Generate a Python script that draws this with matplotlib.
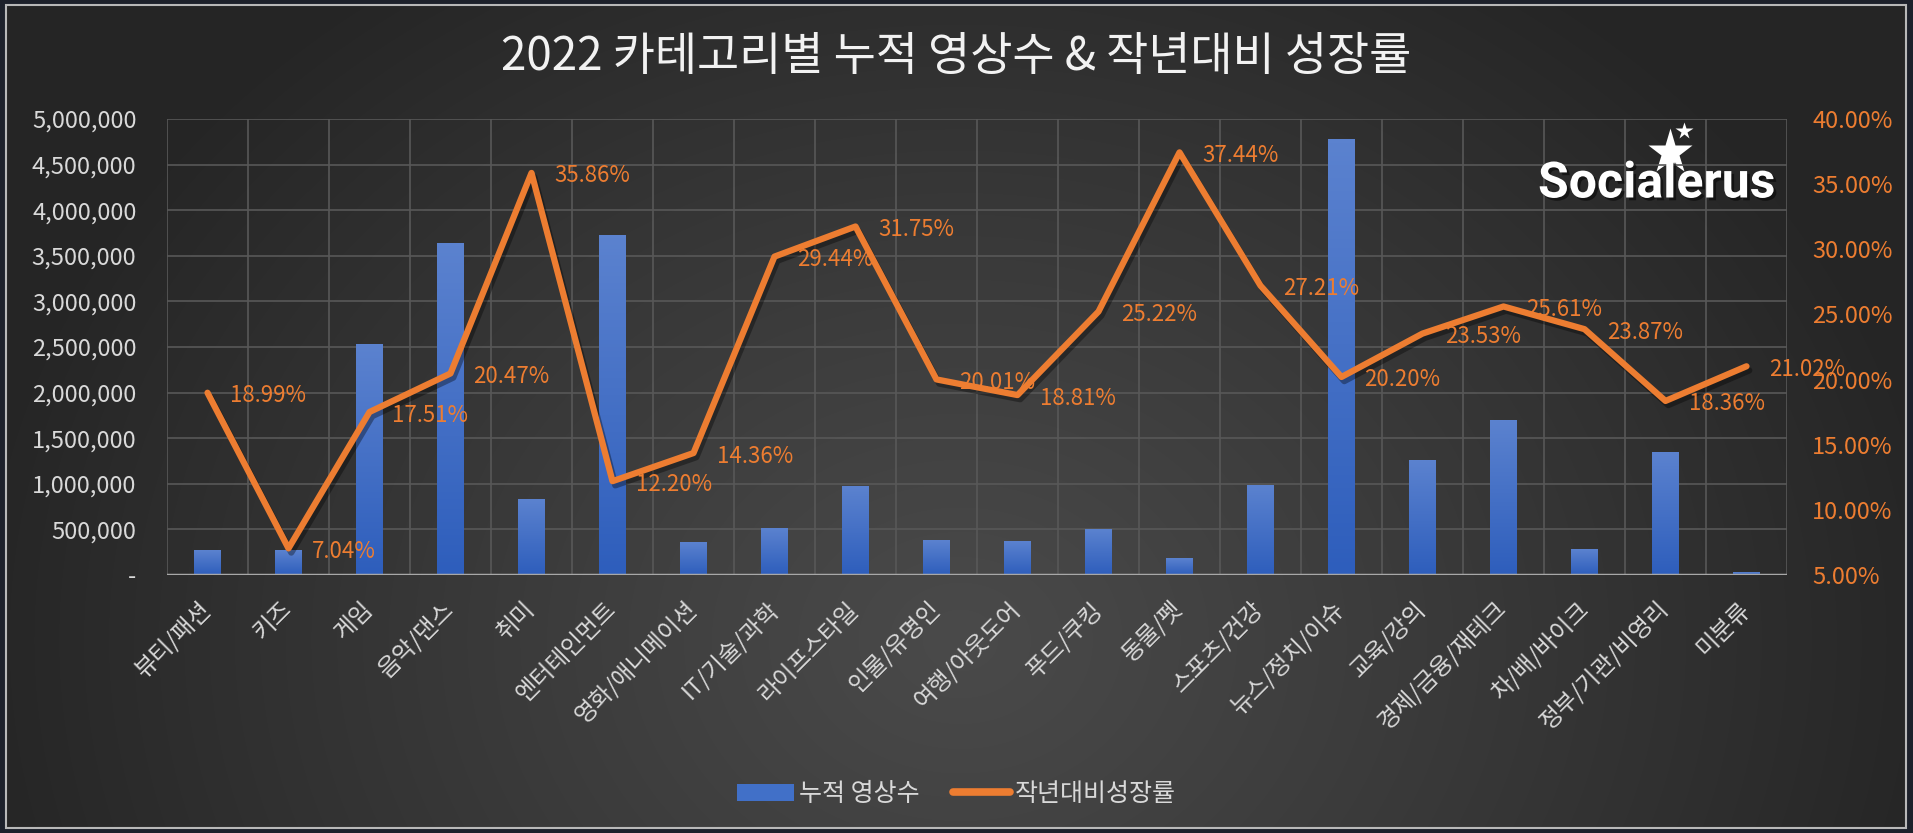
import numpy as np
import matplotlib
matplotlib.use("Agg")
import matplotlib.pyplot as plt
import matplotlib.patheffects as pe
from matplotlib.colors import LinearSegmentedColormap
from matplotlib.lines import Line2D
from matplotlib.patches import Patch, Rectangle
from matplotlib.ticker import FuncFormatter, MultipleLocator, FixedLocator

plt.rcParams['font.family'] = ['Noto Sans CJK KR', 'DejaVu Sans']

# ---- data ----
categories = ['뷰티/패션', '키즈', '게임', '음악/댄스', '취미', '엔터테인먼트', '영화/애니메이션',
              'IT/기술/과학', '라이프스타일', '인물/유명인', '여행/아웃도어', '푸드/쿠킹', '동물/펫',
              '스포츠/건강', '뉴스/정치/이슈', '교육/강의', '경제/금융/재테크', '차/배/바이크',
              '정부/기관/비영리', '미분류']
views = [270000, 265000, 2530000, 3630000, 830000, 3720000, 360000, 510000, 965000, 375000,
         362000, 496000, 186000, 976000, 4780000, 1260000, 1690000, 285000, 1345000, 25000]
growth = [18.99, 7.04, 17.51, 20.47, 35.86, 12.20, 14.36, 29.44, 31.75, 20.01,
          18.81, 25.22, 37.44, 27.21, 20.20, 23.53, 25.61, 23.87, 18.36, 21.02]

title = '2022 카테고리별 누적 영상수 & 작년대비 성장률'
bar_label = '누적 영상수'
line_label = '작년대비성장률'

W, H = 1913, 833
orange = '#ED7D31'
txt_gray = '#d9d9d9'
grid_col = '#585858'

fig = plt.figure(figsize=(W / 100, H / 100), dpi=100, facecolor='#1d212b')

# background gradient inside the frame
bg = fig.add_axes([0, 0, 1, 1], zorder=-10)
bg.set_axis_off()
yy, xx = np.mgrid[0:H, 0:W]
t = np.sqrt(((xx - 960) / 1000.0) ** 2 + ((yy - 640) / 820.0) ** 2)
t = np.clip(t, 0, 1) ** 1.1
c0 = np.array([0x4a, 0x4a, 0x4a]) / 255
c1 = np.array([0x25, 0x25, 0x25]) / 255
img = c0 * (1 - t[..., None]) + c1 * t[..., None]
bg.imshow(img, extent=[0, W, H, 0], aspect='auto')
bg.set_xlim(0, W)
bg.set_ylim(H, 0)
# outer dark margin + light frame
for r in [(0, 0, 5, H), (1907, 0, 6, H), (0, 0, W, 5), (0, 828, W, 5)]:
    bg.add_patch(Rectangle((r[0], r[1]), r[2], r[3], color='#1d212b', zorder=3))
bg.add_patch(Rectangle((6, 5), 1900, 823, fill=False, edgecolor='#b8b8b8', lw=1.5, zorder=4))

# main axes
left, right, top, bottom = 167, 1787, 119, 575
ax = fig.add_axes([left / W, 1 - bottom / H, (right - left) / W, (bottom - top) / H])
ax.set_facecolor('none')
x = np.arange(len(categories))

bar_cmap = LinearSegmentedColormap.from_list('bar', ['#2e5ebc', '#5b82cf'])
grad = np.linspace(0, 1, 100).reshape(-1, 1)
bars = ax.bar(x, views, width=0.33, color='none', zorder=2)
for b in bars:
    x0, w, h = b.get_x(), b.get_width(), b.get_height()
    ax.imshow(grad, extent=[x0, x0 + w, 0, h], origin='lower', aspect='auto',
              cmap=bar_cmap, zorder=2)

ax.set_xlim(-0.5, len(categories) - 0.5)
ax.set_ylim(0, 5000000)
ax.yaxis.set_major_locator(MultipleLocator(500000))
ax.yaxis.set_major_formatter(FuncFormatter(lambda v, p: '-' if v == 0 else f'{v:,.0f}'))
ax.xaxis.set_minor_locator(FixedLocator(np.arange(-0.5, len(categories), 1)))
ax.grid(axis='y', which='major', color=grid_col, lw=1.2, zorder=0)
ax.grid(axis='x', which='minor', color=grid_col, lw=1.2, zorder=0)
ax.axhline(0, color='#a8a8a8', lw=2.5, zorder=3)
for s in ax.spines.values():
    s.set_visible(False)
ax.set_xticks(x)
ax.set_xticklabels(categories, rotation=45, ha='right', va='center', rotation_mode='anchor',
                   fontsize=17, color=txt_gray)
ax.tick_params(axis='x', which='both', length=0, pad=22)
ax.tick_params(axis='y', length=0, pad=22, labelsize=17, labelcolor=txt_gray)

# growth line
ax2 = ax.twinx()
ax2.set_ylim(5, 40)
ax2.yaxis.set_major_locator(MultipleLocator(5))
ax2.yaxis.set_major_formatter(FuncFormatter(lambda v, p: f'{v:.2f}%'))
ax2.tick_params(axis='y', length=0, pad=18, labelsize=17, labelcolor=orange)
for s in ax2.spines.values():
    s.set_visible(False)
ax2.plot(x, growth, color=orange, lw=4.5, solid_joinstyle='round', solid_capstyle='round',
         zorder=5, path_effects=[pe.SimpleLineShadow(offset=(2, -3), shadow_color='black', alpha=0.35),
                                 pe.Normal()])
for xi, g in zip(x, growth):
    ax2.annotate(f'{g:.2f}%', (xi, g), xytext=(23, -3), textcoords='offset pixels',
                 ha='left', va='center', fontsize=16, color=orange, zorder=6)

# title
fig.text(0.5, 1 - 57 / H, title, ha='center', va='center', fontsize=33, color='#f2f2f2')

# logo
logo_fx = [pe.withSimplePatchShadow(offset=(2, -2), shadow_rgbFace='black', alpha=0.5)]
fig.text(1538 / W, 1 - 184 / H, 'Socialerus', ha='left', va='center', fontsize=36,
         fontweight='bold', color='white', family=['Roboto', 'DejaVu Sans'], path_effects=logo_fx)
bg.plot([1670], [152], marker='*', ms=34, color='white', mec='none', zorder=6)
bg.plot([1684], [131], marker='*', ms=13, color='white', mec='none', zorder=6)

# legend
handles = [Patch(facecolor='#4170c8', edgecolor='none', label=bar_label),
           Line2D([0], [0], color=orange, lw=5.5, solid_capstyle='round', label=line_label)]
fig.legend(handles=handles, loc='center', bbox_to_anchor=(0.5, 1 - 794 / H), ncol=2,
           frameon=False, fontsize=18, labelcolor=txt_gray, handlelength=2.3,
           handletextpad=0.2, columnspacing=1.3)

fig.savefig('out.png', dpi=100, facecolor=fig.get_facecolor())
